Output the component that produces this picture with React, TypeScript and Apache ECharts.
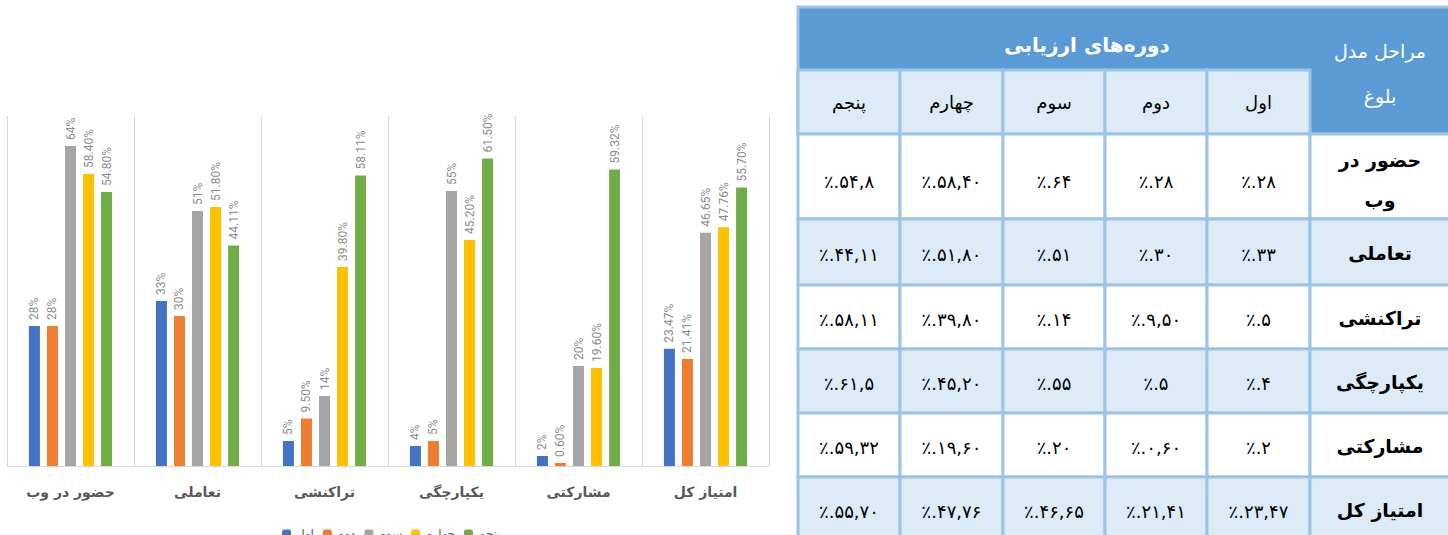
import React, { useEffect, useRef } from "react";
import * as echarts from "echarts";

const categories = ["حضور در وب", "تعاملی", "تراکنشی", "یکپارچگی", "مشارکتی", "امتیاز کل"];
const periods = ["اول", "دوم", "سوم", "چهارم", "پنجم"];
const period1 = [28, 33, 5, 4, 2, 23.47];
const period2 = [28, 30, 9.5, 5, 0.6, 21.41];
const period3 = [64, 51, 14, 55, 20, 46.65];
const period4 = [58.4, 51.8, 39.8, 45.2, 19.6, 47.76];
const period5 = [54.8, 44.11, 58.11, 61.5, 59.32, 55.7];
const seriesColors = ["#4472C4", "#ED7D31", "#A5A5A5", "#FFC000", "#70AD47"];

// table texts
const tableTitle = "دوره‌های ارزیابی";
const tableCorner = "مراحل مدل\nبلوغ";
const tableRowLabels = ["حضور در\nوب", "تعاملی", "تراکنشی", "یکپارچگی", "مشارکتی", "امتیاز کل"];
const tableP1 = ["٪.۲۸", "٪.۳۳", "٪.۵", "٪.۴", "٪.۲", "٪.۲۳,۴۷"];
const tableP2 = ["٪.۲۸", "٪.۳۰", "٪.۹,۵۰", "٪.۵", "٪.۰,۶۰", "٪.۲۱,۴۱"];
const tableP3 = ["٪.۶۴", "٪.۵۱", "٪.۱۴", "٪.۵۵", "٪.۲۰", "٪.۴۶,۶۵"];
const tableP4 = ["٪.۵۸,۴۰", "٪.۵۱,۸۰", "٪.۳۹,۸۰", "٪.۴۵,۲۰", "٪.۱۹,۶۰", "٪.۴۷,۷۶"];
const tableP5 = ["٪.۵۴,۸", "٪.۴۴,۱۱", "٪.۵۸,۱۱", "٪.۶۱,۵", "٪.۵۹,۳۲", "٪.۵۵,۷۰"];

const fmt = (v: number) => (Number.isInteger(v) ? `${v}%` : `${v.toFixed(2)}%`);

function buildTable() {
  const colX = [798, 900, 1003, 1105, 1207, 1310, 1452];
  const rowY = [134, 219, 285, 349, 413, 477, 541];
  const border = "#9DC3E6";
  const band = "#DDEBF7";
  const headBlue = "#5B9BD5";
  const arab = "'DejaVu Sans', sans-serif";
  const els: any[] = [];
  els.push({
    type: "rect",
    shape: { x: 798, y: 7, width: 654, height: 127 },
    style: { fill: headBlue, stroke: border, lineWidth: 3 },
  });
  els.push({
    type: "text",
    x: 1087,
    y: 45,
    style: {
      text: tableTitle,
      fill: "#ffffff",
      font: `bold 20px ${arab}`,
      align: "center",
      verticalAlign: "middle",
    },
  });
  els.push({
    type: "text",
    x: 1380,
    y: 73,
    style: {
      text: tableCorner,
      fill: "#ffffff",
      font: `19px ${arab}`,
      lineHeight: 45,
      align: "center",
      verticalAlign: "middle",
    },
  });
  const cols = [tableP5, tableP4, tableP3, tableP2, tableP1];
  const colNames = [periods[4], periods[3], periods[2], periods[1], periods[0]];
  for (let c = 0; c < 5; c++) {
    els.push({
      type: "rect",
      shape: { x: colX[c], y: 70, width: colX[c + 1] - colX[c], height: 64 },
      style: { fill: band, stroke: border, lineWidth: 3 },
    });
    els.push({
      type: "text",
      x: (colX[c] + colX[c + 1]) / 2,
      y: 102,
      style: {
        text: colNames[c],
        fill: "#000000",
        font: `18px ${arab}`,
        align: "center",
        verticalAlign: "middle",
      },
    });
  }
  for (let r = 0; r < tableRowLabels.length; r++) {
    const fill = r % 2 === 1 ? band : "#ffffff";
    const y0 = rowY[r];
    const h = rowY[r + 1] - rowY[r];
    for (let c = 0; c < 6; c++) {
      els.push({
        type: "rect",
        shape: { x: colX[c], y: y0, width: colX[c + 1] - colX[c], height: h },
        style: { fill, stroke: border, lineWidth: 3 },
      });
    }
    for (let c = 0; c < 5; c++) {
      els.push({
        type: "text",
        x: (colX[c] + colX[c + 1]) / 2,
        y: r === 0 ? 181 : y0 + h / 2 + 2,
        style: {
          text: cols[c][r],
          fill: "#000000",
          font: `18px ${arab}`,
          align: "center",
          verticalAlign: "middle",
        },
      });
    }
    els.push({
      type: "text",
      x: 1380,
      y: r === 0 ? 180 : y0 + h / 2 + 1,
      style: {
        text: tableRowLabels[r],
        fill: "#000000",
        font: `bold 19px ${arab}`,
        lineHeight: 40,
        align: "center",
        verticalAlign: "middle",
      },
    });
  }
  return els;
}

export default function App() {
  const ref = useRef<HTMLDivElement>(null);
  useEffect(() => {
    if (!ref.current) return;
    const chart = echarts.init(ref.current, null, { renderer: "svg" });
    const all = [period1, period2, period3, period4, period5];
    chart.setOption({
      animation: false,
      backgroundColor: "#ffffff",
      color: seriesColors,
      grid: { left: 7, right: 679, top: 116, bottom: 69, containLabel: false },
      legend: {
        data: periods,
        left: 277,
        top: 523,
        itemWidth: 9,
        itemHeight: 9,
        itemGap: 9,
        textStyle: { fontSize: 12, color: "#595959", fontFamily: "'DejaVu Sans', sans-serif" },
      },
      xAxis: {
        type: "category",
        data: categories,
        axisLine: { show: true, lineStyle: { color: "#D9D9D9", width: 1 } },
        axisTick: { show: false },
        splitLine: { show: true, lineStyle: { color: "#D9D9D9", width: 1 } },
        axisLabel: {
          color: "#595959",
          fontSize: 14,
          fontWeight: "bold",
          margin: 19,
          fontFamily: "'DejaVu Sans', sans-serif",
        },
      },
      yAxis: {
        type: "value",
        min: 0,
        max: 70,
        show: false,
        splitLine: { show: false },
      },
      series: all.map((vals, i) => ({
        name: periods[i],
        type: "bar",
        data: vals,
        barWidth: 11,
        barGap: "64%",
        label: {
          show: true,
          position: "top",
          rotate: 90,
          align: "left",
          verticalAlign: "middle",
          distance: 6,
          color: "#8C8C8C",
          fontSize: 12,
          fontFamily: "Roboto, sans-serif",
          formatter: (p: any) => fmt(p.value),
        },
      })),
      graphic: buildTable(),
    });
    return () => chart.dispose();
  }, []);
  return (
    <div
      ref={ref}
      style={{ position: "fixed", left: 0, top: 0, width: 1448, height: 535, background: "#fff" }}
    />
  );
}
